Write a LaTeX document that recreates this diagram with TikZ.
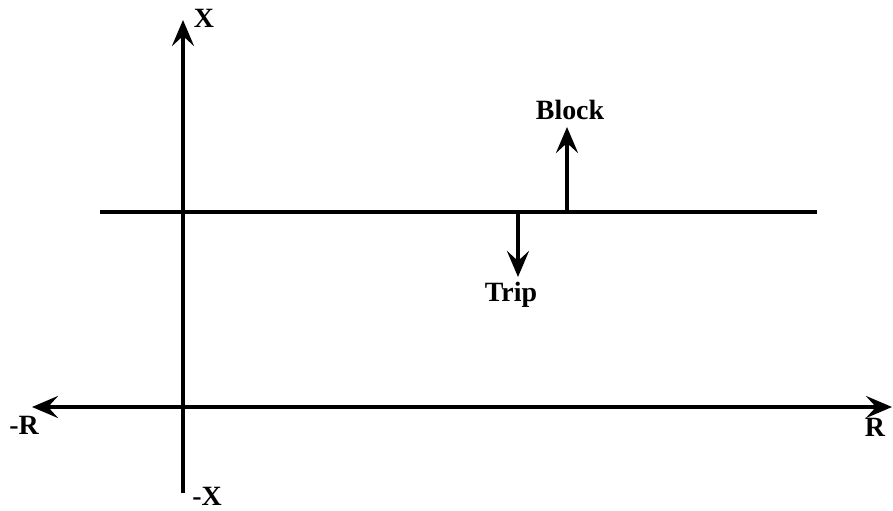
\documentclass[tikz,border=0pt]{standalone}
\usepackage{fontspec}
\setmainfont{Liberation Serif}
\usetikzlibrary{arrows.meta}

\begin{document}
\begin{tikzpicture}[x=1bp, y=-1bp,
		tip/.tip={Stealth[length=26bp, width=22bp, inset=10bp]},
		axis/.style={line width=4bp, -tip},
		lbl/.style={font=\fontsize{28}{32}\selectfont\bfseries, inner sep=0pt}]
	\useasboundingbox (0,0) rectangle (893,511);
	% axes
	\coordinate (xtop) at (183,20);
	\coordinate (xbot) at (183,493);
	\coordinate (rleft) at (32,407);
	\coordinate (rright) at (892,407);
	\draw [axis] (xbot) -- (xtop);
	\draw [axis, tip-tip] (rleft) -- (rright);
	\node [lbl] (xp) at (204,18) {X};
	\node [lbl] (xm) at (207,496) {-X};
	\node [lbl] (rm) at (24,425) {-R};
	\node [lbl] (rp) at (875,427) {R};
	% characteristic line
	\coordinate (la) at (100,212);
	\coordinate (lb) at (817,212);
	\draw [line width=4bp] (la) -- (lb);
	\coordinate (bk) at (567,212);
	\coordinate (bktip) at (567,127);
	\coordinate (tr) at (518,212);
	\coordinate (trtip) at (518,277);
	\node [lbl] (block) at (570,110) {Block};
	\node [lbl] (trip) at (511,295) {Trip};
	\draw [axis] (bk) -- (bktip);
	\draw [axis] (tr) -- (trtip);
\end{tikzpicture}
\end{document}
